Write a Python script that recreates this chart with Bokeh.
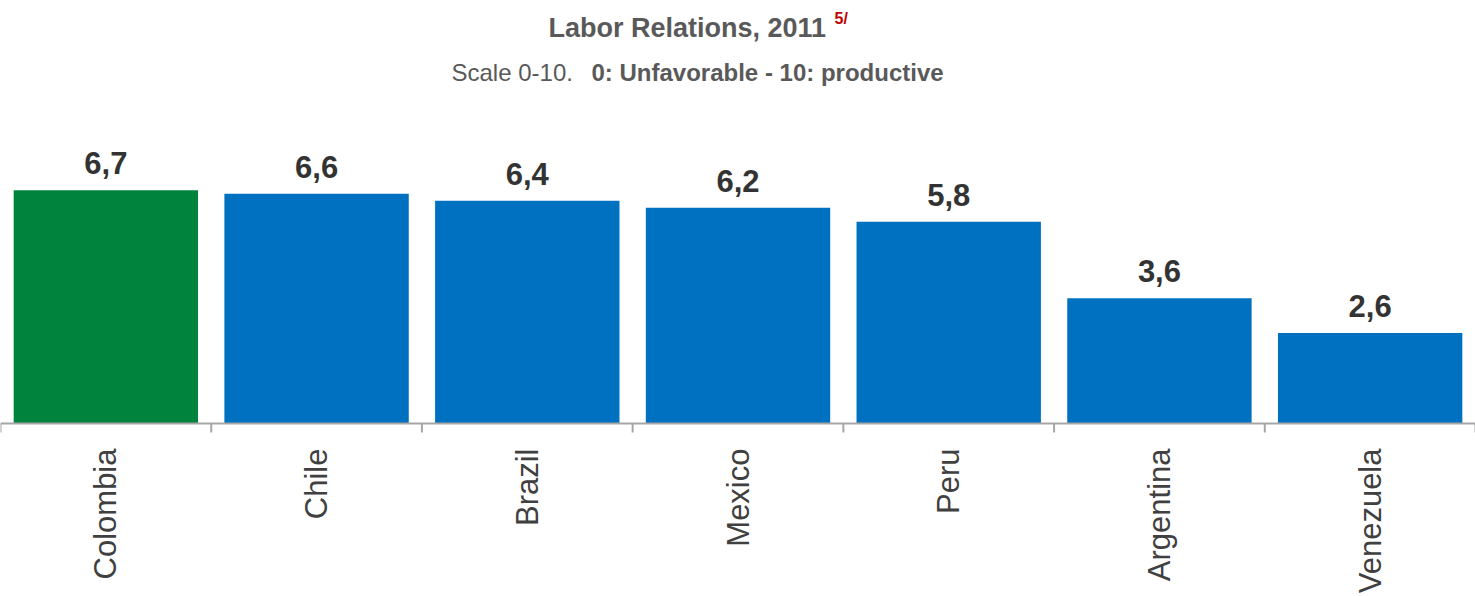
from bokeh.plotting import figure
from bokeh.models import Range1d, Label, ColumnDataSource, Span
from bokeh.embed import file_html
from bokeh.resources import INLINE
from bokeh.core.properties import value
from math import pi

countries = ["Colombia", "Chile", "Brazil", "Mexico", "Peru", "Argentina", "Venezuela"]
scores = [6.7, 6.6, 6.4, 6.2, 5.8, 3.6, 2.6]
highlight = "Colombia"

title_text = "Labor Relations, 2011"
note_text = "5/"
subtitle_plain = "Scale 0-10."
subtitle_bold = "0: Unfavorable - 10: productive"

FONT = "Liberation Sans"
W, H = 1475, 596
AXIS_Y = 423          # pixel row of the category axis inside the figure
PX_PER_UNIT = 34.8
GRAY = "#A6A6A6"

n = len(countries)
xs = [i + 0.5 for i in range(n)]
colors = ["#00843D" if c == highlight else "#0070C0" for c in countries]
labels = [f"{v:.1f}".replace(".", ",") for v in scores]
src = ColumnDataSource(dict(x=xs, top=scores, color=colors, label=labels, name=countries))

p = figure(width=W, height=H, output_backend="svg", toolbar_location=None,
           x_range=Range1d(0, n),
           y_range=Range1d(-(H - AXIS_Y) / PX_PER_UNIT, AXIS_Y / PX_PER_UNIT),
           min_border_left=0, min_border_right=0, min_border_top=0, min_border_bottom=0)
p.outline_line_color = None
p.xgrid.visible = False
p.ygrid.visible = False
p.xaxis.visible = False
p.yaxis.visible = False

p.vbar(x="x", top="top", width=0.875, bottom=0, color="color", line_color=None, source=src)
p.text(x="x", y="top", text="label", source=src, text_align="center", text_baseline="bottom",
       y_offset=-16, text_font=value(FONT), text_font_style="bold", text_font_size="31px",
       text_color="#333333")

# category axis: line, boundary ticks and rotated labels
p.add_layout(Span(location=0, dimension="width", line_color=GRAY, line_width=2))
p.ray(x=list(range(n + 1)), y=0, length=9, length_units="screen", angle=-pi / 2,
      line_color=GRAY, line_width=2)
p.text(x="x", y=0, text="name", source=src, angle=pi / 2, text_align="right",
       text_baseline="middle", y_offset=25, text_font=value(FONT), text_font_size="31px",
       text_color="#404040")

def lab(x, y_bottom, text, size, bold=True, color="#595959"):
    p.add_layout(Label(x=x, y=H - y_bottom, x_units="screen", y_units="screen", text=text,
                       text_font=FONT, text_font_size=size,
                       text_font_style="bold" if bold else "normal",
                       text_color=color, text_baseline="bottom", text_align="left"))

lab(548, 42, title_text, "27px")
lab(834, 26, note_text, "16px", color="#C00000")
lab(451, 85, subtitle_plain, "24px", bold=False)
lab(591, 85, subtitle_bold, "24px")

open("out.html", "w").write(file_html(p, INLINE))
